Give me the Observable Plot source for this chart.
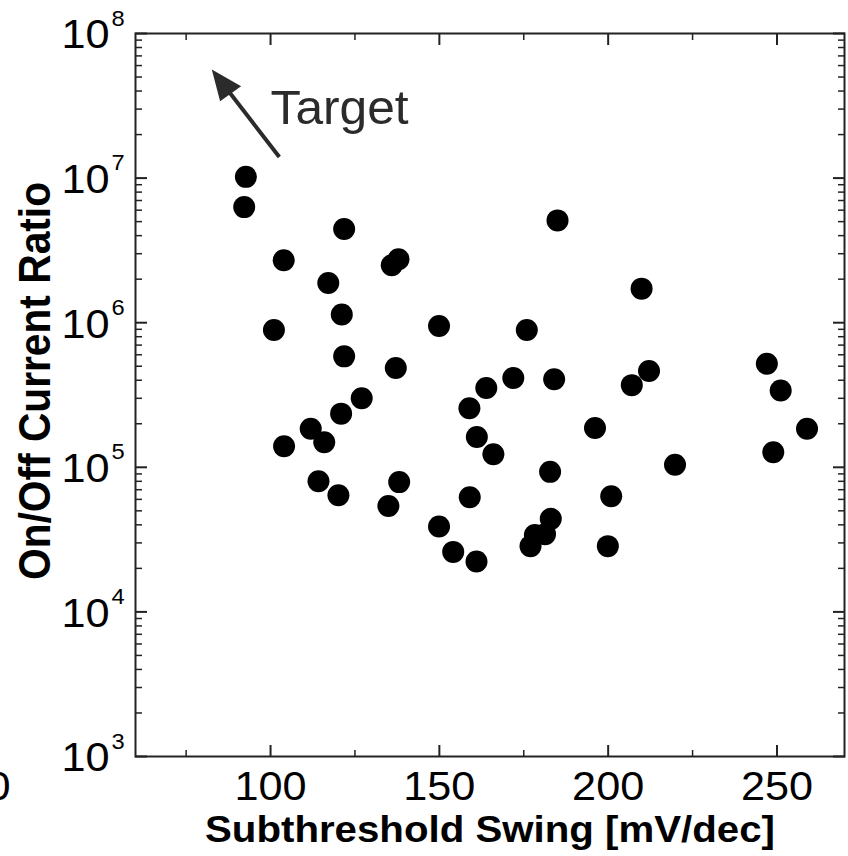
<!DOCTYPE html>
<html><head><meta charset="utf-8">
<script src="https://cdn.jsdelivr.net/npm/d3@7"></script>
<script src="https://cdn.jsdelivr.net/npm/@observablehq/plot@0.6"></script>
<style>html,body{margin:0;padding:0;background:#fff;} #chart svg{display:block}</style>
</head><body><div id="chart"></div>
<script>
// ---- data ----
const swing = [92.7, 92.2, 121.8, 103.9, 135.9, 137.9, 117.1, 121.1, 101.0, 121.8, 137.1, 127.0, 120.9, 111.9, 115.9, 104.0, 114.2, 120.1, 134.9, 138.1, 185.0, 209.9, 149.9, 175.9, 171.9, 184.0, 163.9, 158.9, 207.0, 212.1, 247.0, 251.1, 161.1, 166.0, 196.1, 219.8, 248.9, 258.9, 182.8, 159.0, 200.9, 149.9, 183.0, 177.0, 178.3, 181.3, 199.9, 154.1, 161.0];
const ratio = [1.02e7, 6.3e6, 4.45e6, 2.7e6, 2.5e6, 2.75e6, 1.88e6, 1.14e6, 8.9e5, 5.85e5, 4.86e5, 3.0e5, 2.35e5, 1.85e5, 1.49e5, 1.40e5, 8.0e4, 6.4e4, 5.4e4, 7.9e4, 5.1e6, 1.72e6, 9.5e5, 8.9e5, 4.14e5, 4.06e5, 3.53e5, 2.56e5, 3.7e5, 4.63e5, 5.2e5, 3.4e5, 1.62e5, 1.23e5, 1.87e5, 1.04e5, 1.27e5, 1.85e5, 9.3e4, 6.2e4, 6.3e4, 3.9e4, 4.4e4, 2.85e4, 3.4e4, 3.45e4, 2.85e4, 2.6e4, 2.23e4];
const xDomain = [60, 270];
const yDomain = [1e3, 1e8];
const xMajorTicks = [100, 150, 200, 250];
const xMinorTicks = [75, 125, 175, 225];
const xTickLabels = ["100", "150", "200", "250"];
const yExponents = [3, 4, 5, 6, 7, 8];
const xTitle = "Subthreshold Swing [mV/dec]";
const yTitle = "On/Off Current Ratio";
const targetLabel = "Target";
const targetPos = [{x: 100, y: 3.0e7}];
const arrowSeg = [{x1: 102.6, y1: 1.4e7, x2: 82.6, y2: 5.64e7}];
const strayLabel = "50";

// ---- derived ----
const points = swing.map((s, i) => ({s, r: ratio[i]}));
const yMajor = yExponents.map(e => 10 ** e);
const yMinor = yExponents.slice(0, -1).flatMap(e => d3.range(2, 10).map(m => m * 10 ** e));
const arrowTip = arrowSeg.map(d => ({x: d.x2, y: d.y2}));

const ink = "#222";
const grey = "#2b2b2b";
const font = "Liberation Sans, Arial, Helvetica, sans-serif";
const headSymbol = {draw(ctx) { ctx.moveTo(0, 0); ctx.lineTo(8.3, 31.7); ctx.lineTo(29.3, 16.7); ctx.closePath(); }};

const axisOpts = {tickFormat: () => "", label: null, stroke: ink};

const chart = Plot.plot({
  width: 848, height: 856,
  marginLeft: 135, marginRight: 4, marginTop: 33, marginBottom: 100,
  style: {fontFamily: font, background: "#fff", color: "#000"},
  x: {domain: xDomain, label: null},
  y: {type: "log", domain: yDomain, label: null},
  marks: [
    Plot.axisX({anchor: "bottom", ticks: xMajorTicks, tickSize: -11, strokeWidth: 2, ...axisOpts}),
    Plot.axisX({anchor: "bottom", ticks: xMinorTicks, tickSize: -6, strokeWidth: 1.5, ...axisOpts}),
    Plot.axisX({anchor: "top", ticks: xMajorTicks, tickSize: -11, strokeWidth: 2, ...axisOpts}),
    Plot.axisX({anchor: "top", ticks: xMinorTicks, tickSize: -6, strokeWidth: 1.5, ...axisOpts}),
    Plot.axisY({anchor: "left", ticks: yMajor, tickSize: -12, strokeWidth: 2, ...axisOpts}),
    Plot.axisY({anchor: "left", ticks: yMinor, tickSize: -7, strokeWidth: 1.5, ...axisOpts}),
    Plot.axisY({anchor: "right", ticks: yMajor, tickSize: -12, strokeWidth: 2, ...axisOpts}),
    Plot.axisY({anchor: "right", ticks: yMinor, tickSize: -7, strokeWidth: 1.5, ...axisOpts}),
    Plot.frame({stroke: ink, strokeWidth: 2}),
    Plot.dot(points, {x: "s", y: "r", r: 11, fill: "#000"}),
    // y tick labels 10^n
    Plot.text(yMajor, {y: d => d, text: () => "10", frameAnchor: "left", textAnchor: "end", dx: -26, dy: 2, fontSize: 40}),
    Plot.text(yMajor, {y: d => d, text: d => String(Math.round(Math.log10(d))), frameAnchor: "left", textAnchor: "start", dx: -24, dy: -15, fontSize: 22}),
    // x tick labels
    Plot.text(xMajorTicks, {x: d => d, text: (d, i) => xTickLabels[i], frameAnchor: "bottom", lineAnchor: "bottom", dy: 43.3, fontSize: 40}),
    Plot.text([strayLabel], {text: d => d, frameAnchor: "bottom-left", lineAnchor: "bottom", textAnchor: "end", dx: -125, dy: 43.3, fontSize: 40}),
    // titles
    Plot.text([xTitle], {text: d => d, frameAnchor: "bottom", lineAnchor: "bottom", textAnchor: "middle", dy: 85.5, fontSize: 36, fontWeight: "bold"}),
    Plot.text([yTitle], {text: d => d, frameAnchor: "left", textAnchor: "middle", rotate: -90, dx: -100, dy: -14, fontSize: 45, fontWeight: "bold"}),
    // annotation
    Plot.arrow(arrowSeg, {x1: "x1", y1: "y1", x2: "x2", y2: "y2", stroke: grey, strokeWidth: 4, headLength: 0, insetEnd: 14, strokeLinecap: "butt"}),
    Plot.dot(arrowTip, {x: "x", y: "y", symbol: headSymbol, r: 1, fill: grey}),
    Plot.text(targetPos, {x: "x", y: "y", text: () => targetLabel, textAnchor: "start", fontSize: 48, fill: grey})
  ]
});
document.getElementById("chart").appendChild(chart);

// the reference's lettering is slightly wide: stretch glyphs horizontally
const fit = (t, len) => { t.setAttribute("textLength", len.toFixed(1)); t.setAttribute("lengthAdjust", "spacingAndGlyphs"); };
for (const t of chart.querySelectorAll("text")) {
  const s = t.textContent;
  if (!s) continue;
  if (s === xTitle) fit(t, 570);
  else if (s === yTitle) fit(t, 398);
  else if (s === targetLabel) fit(t, t.getComputedTextLength() * 1.035);
  else fit(t, t.getComputedTextLength() * 1.08);
}
</script>
</body></html>
